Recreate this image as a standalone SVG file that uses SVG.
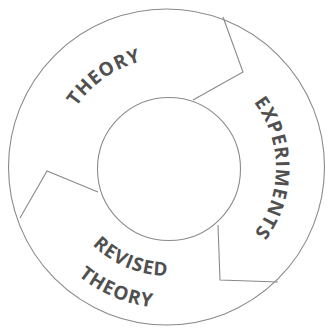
<svg xmlns="http://www.w3.org/2000/svg" width="328" height="328" viewBox="0 0 328 328">
  <style>
    .ring { fill: none; stroke: #8a8a8a; stroke-width: 1.1; }
    .sep { fill: none; stroke: #8a8a8a; stroke-width: 1.1; stroke-linejoin: miter; }
    .lbl { font-family: "Open Sans", "Liberation Sans", sans-serif; font-weight: bold; font-size: 19px; fill: #505050; letter-spacing: 1px; }
  </style>
  <defs>
    <path id="pTheory" d="M 58.4 177.6 A 110 110 0 0 1 214.5 68.3"/>
    <path id="pExp" d="M 222 74.5 A 108 108 0 0 1 222 261.5"/>
    <path id="pRevised" d="M 61 182 A 108 108 0 0 0 234.5 253"/>
    <path id="pTheory2" d="M 29 185 A 140 140 0 0 0 252 280"/>
  </defs>
  <rect width="328" height="328" fill="#ffffff"/>
  <g id="ring">
    <circle class="ring" cx="166.5" cy="167" r="158"/>
    <circle class="ring" cx="169" cy="169" r="71.5"/>
  </g>
  <g id="connectors">
    <polyline class="sep" points="223,17 243,72 193,100"/>
    <polyline class="sep" points="218,225 220,280 278,282"/>
    <polyline class="sep" points="98,192 47,171 20,218"/>
  </g>
  <g id="theory">
    <text class="lbl" text-anchor="middle"><textPath href="#pTheory" startOffset="50%">THEORY</textPath></text>
  </g>
  <g id="experiments">
    <text class="lbl" text-anchor="middle"><textPath href="#pExp" startOffset="50%">EXPERIMENTS</textPath></text>
  </g>
  <g id="revised-theory">
    <text class="lbl" text-anchor="middle"><textPath href="#pRevised" startOffset="50%">REVISED</textPath></text>
    <text class="lbl" text-anchor="middle"><textPath href="#pTheory2" startOffset="50%">THEORY</textPath></text>
  </g>
</svg>
